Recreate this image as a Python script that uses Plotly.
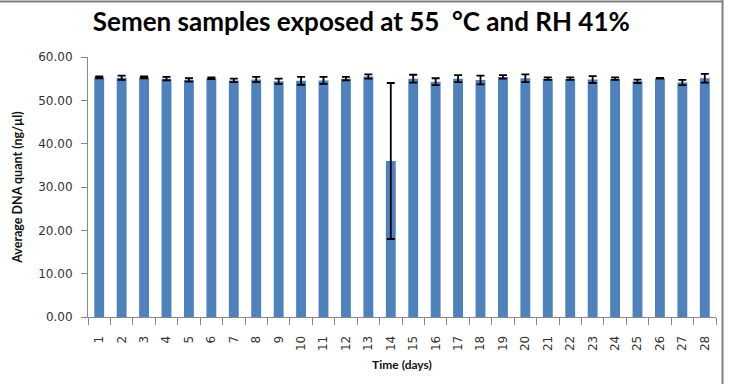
import plotly.graph_objects as go

days = [str(i) for i in range(1, 29)]
means = [55.3, 55.2, 55.3, 55.0, 54.7, 55.1, 54.6, 54.8, 54.4, 54.5, 54.6, 55.0, 55.5, 36.0,
         55.0, 54.3, 55.0, 54.7, 55.4, 55.1, 55.0, 55.0, 54.8, 55.0, 54.4, 55.1, 54.1, 55.1]
errs = [0.2, 0.5, 0.2, 0.4, 0.4, 0.2, 0.4, 0.6, 0.6, 0.9, 0.8, 0.4, 0.5, 18.0,
        0.9, 0.8, 0.8, 1.0, 0.4, 0.9, 0.3, 0.3, 0.8, 0.3, 0.4, 0.1, 0.6, 1.0]
yticks = [0, 10, 20, 30, 40, 50, 60]

W, H = 730, 384
L, R, T, B = 88, 14, 57, 67
pw, ph = W - L - R, H - T - B

def px(x):
    return (x - L) / pw

def py(y):
    return (H - B - y) / ph

fig = go.Figure(go.Bar(
    x=days, y=means,
    marker=dict(color="#4F81BD", line=dict(width=0)),
    error_y=dict(type="data", array=errs, visible=True, color="black", thickness=1.8, width=4),
))

fig.update_layout(
    width=W, height=H,
    margin=dict(l=L, r=R, t=T, b=B),
    paper_bgcolor="white", plot_bgcolor="white",
    bargap=0.56,
    showlegend=False,
    font=dict(family="DejaVu Sans", color="#222"),
    title=dict(text="<b>Semen samples exposed at 55  °C and RH 41%</b>", x=0.495, xref="container",
               y=1 - 22 / H, yanchor="middle",
               font=dict(family="Lato", size=26, color="black")),
    xaxis=dict(
        type="category", tickangle=-90, showline=True, linecolor="#888", linewidth=1,
        ticks="outside", tickson="boundaries", ticklen=7, tickcolor="#888",
        tickfont=dict(size=12, color="#333"), ticklabelstandoff=13,
        title=dict(text="<b>Time (days)</b>", font=dict(family="Lato", size=12, color="#111"), standoff=10),
        showgrid=False,
    ),
    yaxis=dict(
        range=[0, 60], tickvals=yticks, ticktext=[f"{v:.2f}" for v in yticks],
        showline=True, linecolor="#888", linewidth=1, ticks="outside", ticklen=6, tickcolor="#888",
        tickfont=dict(size=12, color="#333"), ticklabelstandoff=6, showgrid=False, zeroline=False,
        title=dict(text="<b>Average DNA quant (ng/µl)</b>", font=dict(family="Lato", size=12.5, color="#111"),
                   standoff=12),
    ),
    shapes=[
        dict(type="line", xref="paper", yref="paper", x0=px(0), x1=px(723), y0=py(1.5), y1=py(1.5),
             line=dict(color="#808080", width=2)),
        dict(type="line", xref="paper", yref="paper", x0=px(722.5), x1=px(722.5), y0=py(0), y1=py(384),
             line=dict(color="#808080", width=2)),
    ],
)

fig.write_html("out.html")
